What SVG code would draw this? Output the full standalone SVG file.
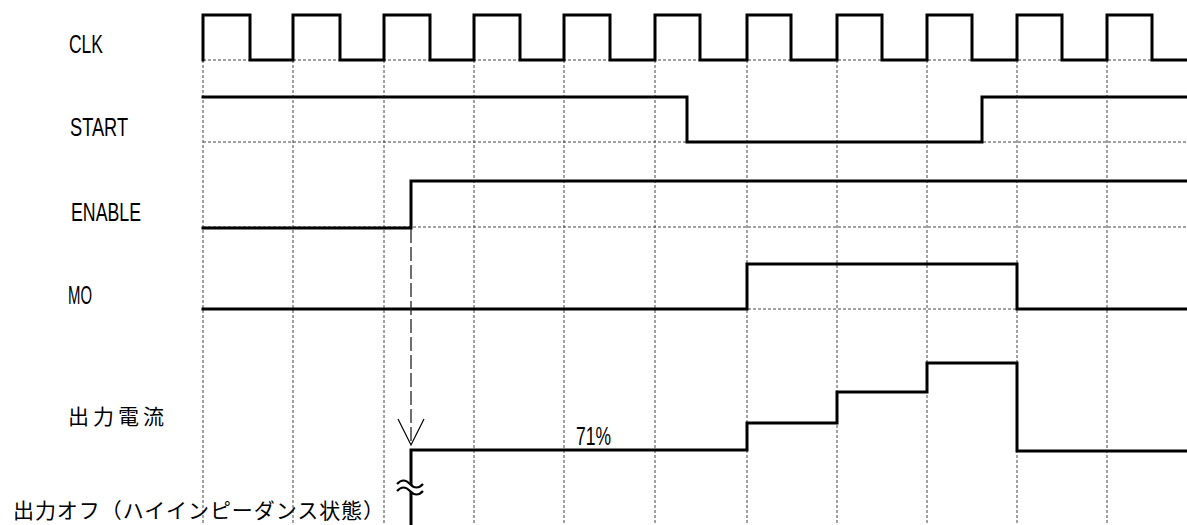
<svg xmlns="http://www.w3.org/2000/svg" width="1187" height="525" viewBox="0 0 1187 525">
<style>
.grid{stroke:#444;stroke-width:1;stroke-dasharray:3,2;fill:none}
.wave{stroke:#000;stroke-width:3;fill:none;stroke-linejoin:miter;stroke-linecap:square}
.lbl{font-family:"Liberation Sans",Arial,sans-serif;font-size:25px;fill:#000}
.jp{font-family:"Noto Sans CJK JP","Noto Sans CJK SC",sans-serif;font-size:21px;fill:#000}
.conn{stroke:#222;stroke-width:1.3;stroke-dasharray:14,4;fill:none}
</style>
<defs>
<marker id="openV" markerUnits="userSpaceOnUse" orient="auto" refX="0" refY="0" markerWidth="30" markerHeight="30" viewBox="-28 -15 30 30" overflow="visible">
<path d="M-26,-13 L0,0 L-26,13" fill="none" stroke="#000" stroke-width="1.2"/>
</marker>
</defs>
<rect width="1187" height="525" fill="#fff"/>
<g id="grid">
<path class="grid" d="M203,60H1187M203,142H1187M203,227H1187M203,309H1187"/>
<path class="grid" d="M203,60V525M293,60V525M384,60V525M474,60V525M564,60V525M655,60V525M747,60V525M837,60V525M927,60V525M1017,60V525M1107,60V525"/>
</g>
<g id="clk">
<text class="lbl" x="69" y="53" textLength="34" lengthAdjust="spacingAndGlyphs">CLK</text>
<path class="wave" d="M203,60V15H250V60H293V15H340V60H384V15H430V60H474V15H520V60H564V15H610V60H655V15H700V60H747V15H791V60H837V15H882V60H927V15H972V60H1017V15H1062V60H1107V15H1152V60H1187"/>
</g>
<g id="start">
<text class="lbl" x="70" y="136" textLength="58" lengthAdjust="spacingAndGlyphs">START</text>
<path class="wave" d="M203,97H687V142H982V97H1187"/>
</g>
<g id="enable">
<text class="lbl" x="71" y="221" textLength="70" lengthAdjust="spacingAndGlyphs">ENABLE</text>
<path class="wave" d="M203,228H411V181H1187"/>
</g>
<g id="mo">
<text class="lbl" x="68" y="304" textLength="24" lengthAdjust="spacingAndGlyphs">MO</text>
<path class="wave" d="M203,309H747V264H1017V309H1187"/>
</g>
<g id="output">
<text class="jp" x="68" y="424" textLength="96" lengthAdjust="spacing">出力電流</text>
<path class="wave" d="M411,525V450H747V423H837V392H927V363H1017V451H1187"/>
<text class="lbl" x="576" y="445" textLength="35" lengthAdjust="spacingAndGlyphs">71%</text>
<path d="M397,484 q6.5,-7 13,0 t13,0 V491 q-6.5,7 -13,0 t-13,0 Z" fill="#fff" stroke="none"/>
<path d="M397,484 q6.5,-7 13,0 t13,0 M397,491 q6.5,-7 13,0 t13,0" fill="none" stroke="#000" stroke-width="2.2"/>
</g>
<g id="off-state">
<text class="jp" x="13" y="518" textLength="371" lengthAdjust="spacing">出力オフ（ハイインピーダンス状態）</text>
</g>
<g id="connectors">
<path class="conn" d="M411,229V445" marker-end="url(#openV)"/>
</g>
</svg>
